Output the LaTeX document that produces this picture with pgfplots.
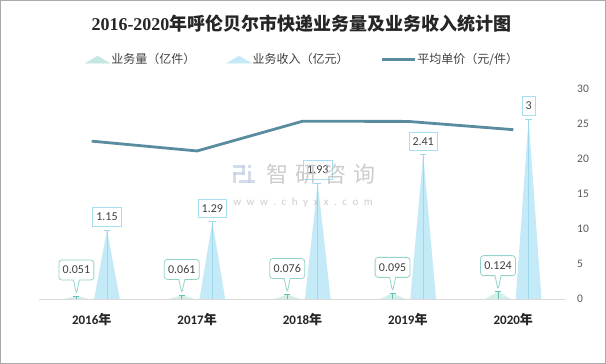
\documentclass[border=0pt]{standalone}
\usepackage{fontspec}
\setmainfont{Carlito}
\newfontfamily\cjk{Noto Sans CJK SC}
\newfontfamily\tserif{Liberation Serif}
\usepackage{pgfplots}
\pgfplotsset{compat=1.18}
\usetikzlibrary{shapes.callouts}
\definecolor{revfill}{HTML}{C4E9F7}
\definecolor{revline}{HTML}{9DD8EC}
\definecolor{revborder}{HTML}{A9DEF2}
\definecolor{volfill}{HTML}{D4EEEA}
\definecolor{volline}{HTML}{66C2B3}
\definecolor{volborder}{HTML}{93D3C9}
\definecolor{pricecolor}{HTML}{5A8CA0}
\definecolor{textgray}{HTML}{404040}
\definecolor{tickgray}{HTML}{595959}
\definecolor{axisgray}{HTML}{D9D9D9}
\definecolor{framegray}{HTML}{AAAAAA}
\definecolor{wmgray}{HTML}{BDBDBD}
\definecolor{logoblue}{HTML}{C6D1E4}
\pgfplotstableread{
x y label
0.145 1.15 1.15
1.145 1.29 1.29
2.145 1.93 1.93
3.145 2.41 2.41
4.145 3 3
}\revtable
\pgfplotstableread{
x y label
-0.145 0.051 0.051
0.855 0.061 0.061
1.855 0.076 0.076
2.855 0.095 0.095
3.855 0.124 0.124
}\voltable
\begin{document}
\begin{tikzpicture}[x=1pt,y=1pt]
\path[use as bounding box] (-39,-65) rectangle (567,299);
\fill[white] (-39,-65) rectangle (567,299);
\node[text=black!85, font=\fontsize{18}{21}\selectfont\bfseries] at (262.5,275) {{\tserif 2016-2020}{\cjk 年呼伦贝尔市快递业务量及业务收入统计图}};
\begin{axis}[
  at={(0,0)}, anchor=south west, scale only axis, width=527pt, height=210pt,
  xmin=-0.5, xmax=4.5, ymin=0, ymax=3.5, clip=false,
  axis x line*=bottom, axis y line=none,
  x axis line style={draw=axisgray, line width=0.9pt, -},
  xtick={0,1,2,3,4},
  xticklabels={2016{\cjk 年},2017{\cjk 年},2018{\cjk 年},2019{\cjk 年},2020{\cjk 年}},
  major tick length=0pt,
  xticklabel style={anchor=center, yshift=-21pt, font=\fontsize{13}{15}\selectfont\bfseries, text=black!85},
  ytick=\empty,
  legend style={at={(0.5,1.14)}, anchor=center, draw=none, fill=none,
    font=\cjk\fontsize{12}{14}\selectfont, text=textgray,
    /tikz/every even column/.append style={column sep=30pt},
    nodes={inner xsep=1.5pt, inner ysep=1pt}},
  legend columns=3,
]
\addlegendimage{legend image code/.code={\fill[volfill!85!volline] (0pt,-3.5pt) -- (12pt,3.5pt) -- (24pt,-3.5pt) -- cycle;}}
\addlegendentry{业务量（亿件）}
\addlegendimage{legend image code/.code={\fill[revfill] (0pt,-3.5pt) -- (12pt,3.5pt) -- (24pt,-3.5pt) -- cycle;}}
\addlegendentry{业务收入（亿元）}
\addlegendimage{legend image code/.code={\draw[pricecolor, line width=2.6pt] (0pt,0pt) -- (33pt,0pt);}}
\addlegendentry{平均单价（元/件）}
% revenue triangles
\addplot[fill=revfill, draw=none, forget plot] coordinates {(0.023,0) (0.145,1.15) (0.267,0)};
\addplot[fill=revfill, draw=none, forget plot] coordinates {(1.023,0) (1.145,1.29) (1.267,0)};
\addplot[fill=revfill, draw=none, forget plot] coordinates {(2.023,0) (2.145,1.93) (2.267,0)};
\addplot[fill=revfill, draw=none, forget plot] coordinates {(3.023,0) (3.145,2.41) (3.267,0)};
\addplot[fill=revfill, draw=none, forget plot] coordinates {(4.023,0) (4.145,3) (4.267,0)};
% volume triangles
\addplot[fill=volfill, draw=none, forget plot] coordinates {(-0.267,0) (-0.145,0.051) (-0.023,0)};
\addplot[fill=volfill, draw=none, forget plot] coordinates {(0.733,0) (0.855,0.061) (0.977,0)};
\addplot[fill=volfill, draw=none, forget plot] coordinates {(1.733,0) (1.855,0.076) (1.977,0)};
\addplot[fill=volfill, draw=none, forget plot] coordinates {(2.733,0) (2.855,0.095) (2.977,0)};
\addplot[fill=volfill, draw=none, forget plot] coordinates {(3.733,0) (3.855,0.124) (3.977,0)};
% revenue stems + labels
\addplot[ycomb, draw=revline, line width=0.8pt, mark=-, mark size=3.3pt,
  mark options={draw=revline, line width=0.8pt}, forget plot,
  point meta=explicit symbolic, nodes near coords,
  every node near coord/.style={anchor=south, yshift=3.5pt, draw=revborder, fill=white,
    line width=0.8pt, inner xsep=3.5pt, inner ysep=0pt, minimum height=18.5pt,
    text=textgray, font=\fontsize{12}{14}\selectfont}]
  table[x=x, y=y, meta=label] {\revtable};
% volume stems + labels
\addplot[ycomb, draw=volline, line width=0.8pt, mark=-, mark size=3pt,
  mark options={draw=volline, line width=0.8pt}, forget plot,
  point meta=explicit symbolic, nodes near coords,
  every node near coord/.style={rectangle callout, callout relative pointer={(0pt,-14pt)},
    callout pointer width=6pt, anchor=pointer, rounded corners=3pt,
    draw=volborder, fill=white, line width=0.8pt, inner xsep=3.8pt, inner ysep=0pt,
    minimum height=20pt, text=textgray, font=\fontsize{12}{14}\selectfont}]
  table[x=x, y=y, meta=label] {\voltable};
\end{axis}
\begin{axis}[
  at={(0,0)}, anchor=south west, scale only axis, width=527pt, height=210pt,
  xmin=-0.5, xmax=4.5, ymin=0, ymax=30, clip=false,
  axis x line=none, axis y line*=right,
  y axis line style={draw=none},
  ytick={0,5,10,15,20,25,30},
  major tick length=0pt,
  yticklabel style={anchor=west, inner sep=0pt, xshift=11pt, font=\fontsize{11.5}{13}\selectfont, text=tickgray},
  /pgf/number format/assume math mode=true,
]
\addplot[pricecolor, line width=2.8pt, mark=none] coordinates {(0,22.55) (1,21.15) (2,25.39) (3,25.37) (4,24.19)};
\end{axis}
% watermark
\begin{scope}[opacity=0.75]
\fill[logoblue] (194,131) rectangle (206,134);
\fill[logoblue] (203,124) rectangle (206,134);
\fill[logoblue] (194,124) rectangle (206,127);
\fill[logoblue] (194,116) rectangle (197,127);
\fill[logoblue] (209,131) rectangle (212,134);
\fill[logoblue] (209,116) rectangle (212,128);
\fill[logoblue] (200,116) rectangle (216,119);
\node[text=wmgray, font=\cjk\fontsize{22}{24}\selectfont] at (282,125) {智\hspace{7pt}研\hspace{7pt}咨\hspace{7pt}询};
\node[text=wmgray, font=\fontsize{11}{12}\selectfont] at (264,96) {w\hspace{5.5pt}w\hspace{5.5pt}w\hspace{5.5pt}.\hspace{5.5pt}c\hspace{5.5pt}h\hspace{5.5pt}y\hspace{5.5pt}x\hspace{5.5pt}x\hspace{5.5pt}.\hspace{5.5pt}c\hspace{5.5pt}o\hspace{5.5pt}m};
\end{scope}
\draw[framegray, line width=1pt] (-38.5,-64.5) rectangle (566.5,298.5);
\end{tikzpicture}
\end{document}
